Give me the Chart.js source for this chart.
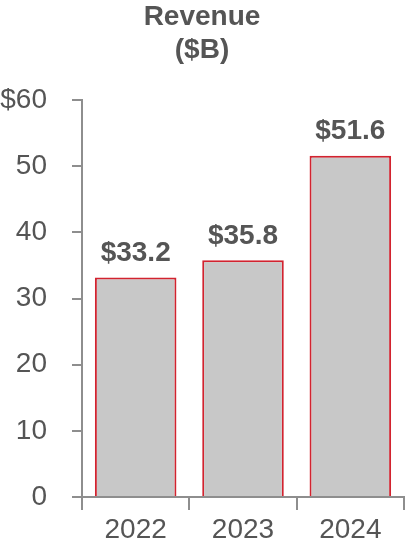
<!DOCTYPE html>
<html>
<head>
<meta charset="utf-8">
<script src="https://cdn.jsdelivr.net/npm/chart.js@4"></script>
<style>
  html, body { margin: 0; padding: 0; background: #fff; }
  #wrap { width: 407px; height: 550px; }
</style>
</head>
<body>
<div id="wrap"><canvas id="chart" width="407" height="550"></canvas></div>
<script>
const years = ['2022', '2023', '2024'];
const revenue = [33.2, 35.8, 51.6];
const yTicks = [0, 10, 20, 30, 40, 50, 60];

const textGrey = '#555555';
const axisGrey = '#8e8e8e';
const fontFamily = '"Liberation Sans", Arial, sans-serif';

// draws the "$xx.x" labels above each bar
const barLabels = {
  id: 'barLabels',
  afterDatasetsDraw(chart) {
    const ctx = chart.ctx;
    const meta = chart.getDatasetMeta(0);
    ctx.save();
    ctx.font = 'bold 28px ' + fontFamily;
    ctx.fillStyle = textGrey;
    ctx.textAlign = 'center';
    ctx.textBaseline = 'bottom';
    meta.data.forEach((bar, i) => {
      ctx.fillText('$' + revenue[i].toFixed(1), bar.x, bar.y - 10);
    });
    ctx.restore();
  }
};

const ctx = document.getElementById('chart').getContext('2d');
new Chart(ctx, {
  type: 'bar',
  data: {
    labels: years,
    datasets: [{
      label: 'Revenue',
      data: revenue,
      backgroundColor: '#c8c8c8',
      borderColor: '#d2232f',
      borderWidth: 2,
      borderSkipped: 'bottom',
      barPercentage: 0.76,
      categoryPercentage: 1
    }]
  },
  options: {
    responsive: false,
    animation: false,
    layout: { padding: { right: 3, top: 0, left: 0, bottom: 0 } },
    plugins: {
      legend: { display: false },
      tooltip: { enabled: false },
      title: {
        display: true,
        text: ['Revenue', '($B)'],
        color: textGrey,
        font: { family: fontFamily, size: 28, weight: 'bold', lineHeight: 1.2 },
        padding: { top: 0, bottom: 33 }
      }
    },
    scales: {
      x: {
        grid: { drawOnChartArea: false, drawTicks: true, tickLength: 13, color: axisGrey, lineWidth: 2, offset: true },
        border: { color: axisGrey, width: 2 },
        ticks: {
          color: textGrey,
          padding: 3,
          font: { family: fontFamily, size: 28 }
        },
        afterFit(scale) { scale.height = 53; }
      },
      y: {
        min: 0,
        max: 60,
        afterBuildTicks(scale) { scale.ticks = yTicks.map(v => ({ value: v })); },
        grid: { drawOnChartArea: false, drawTicks: true, tickLength: 10, color: axisGrey, lineWidth: 2 },
        border: { color: axisGrey, width: 2 },
        ticks: {
          color: textGrey,
          padding: 25,
          font: { family: fontFamily, size: 28 },
          callback: (v) => v === 60 ? '$60' : String(v)
        },
        afterFit(scale) { scale.width = 82; }
      }
    }
  },
  plugins: [barLabels]
});
</script>
</body>
</html>
